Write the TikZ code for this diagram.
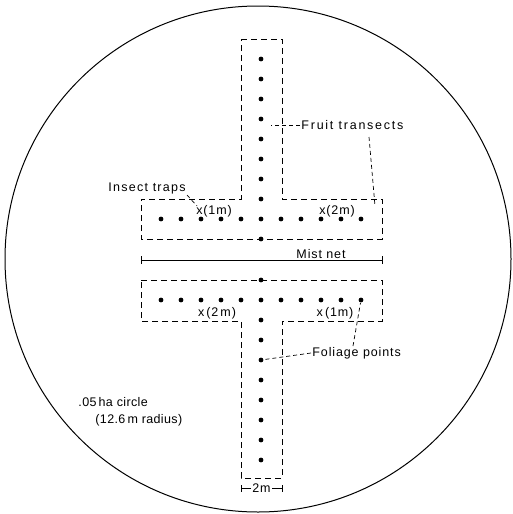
\documentclass[tikz,border=0pt]{standalone}
\usepackage{fontspec}
\setmainfont{Liberation Sans}[LetterSpace=7]
\begin{document}
\begin{tikzpicture}[x=1pt,y=-1pt,line width=0.9pt,
  bound/.style={draw,dash pattern=on 6pt off 4pt,line width=0.9pt},
  leader/.style={draw,dash pattern=on 4pt off 3pt,line width=0.7pt},
  dot/.style={circle,fill,inner sep=0pt,minimum size=4.8pt},
  lbl/.style={font=\fontsize{12.5}{14}\selectfont,inner sep=1pt},
  wide/.style={font=\fontsize{12.5}{14}\selectfont\addfontfeatures{LetterSpace=14}},
  tight/.style={font=\fontsize{12.5}{14}\selectfont\addfontfeatures{LetterSpace=3}}
]
\useasboundingbox (0,0) rectangle (512,514);
% enclosing circle
\draw[line width=1pt] (258,259) circle[radius=253];
% transect outlines
\draw[bound] (241,39) -- (282,39) -- (282,199) -- (382,199) -- (382,239)
  -- (141,239) -- (141,199) -- (241,199) -- cycle;
\draw[bound] (141,280) -- (382,280) -- (382,321) -- (282,321) -- (282,478)
  -- (241,478) -- (241,321) -- (141,321) -- cycle;
% points
\foreach \i in {0,...,9} { \node[dot] (uc\i) at (261,{59+20*\i}) {}; }
\foreach \i in {0,...,4,6,7,8,9,10} { \node[dot] (ur\i) at ({161+20*\i},219) {}; }
\foreach \i in {0,...,9} { \node[dot] (lc\i) at (261,{280+20*\i}) {}; }
\foreach \i in {0,...,4,6,7,8,9,10} { \node[dot] (lr\i) at ({161+20*\i},300) {}; }
% mist net
\coordinate (mnL) at (141,260);
\coordinate (mnR) at (382,260);
\draw (mnL) -- (mnR);
\draw ([yshift=-4pt]mnL) -- ([yshift=4pt]mnL);
\draw ([yshift=-4pt]mnR) -- ([yshift=4pt]mnR);
\node[lbl,fill=white,anchor=base,inner xsep=3pt] (mist) at (321,258.5) {Mist net};
% 2 m dimension
\coordinate (dL) at (241,488);
\coordinate (dR) at (282,488);
\draw[line width=0.7pt] (dL) -- (dR);
\draw[line width=0.7pt] ([yshift=-3.5pt]dL) -- ([yshift=3.5pt]dL);
\draw[line width=0.7pt] ([yshift=-3.5pt]dR) -- ([yshift=3.5pt]dR);
\node[lbl,fill=white,inner xsep=1.5pt] (two) at (261.5,488) {2m};
% labels
\node[lbl,anchor=west,font=\fontsize{12.5}{14}\selectfont\addfontfeatures{LetterSpace=10}] (ins) at (107,188) {Insect traps};
\node[lbl,anchor=west,wide] (fruit) at (300,125) {Fruit transects};
\node[lbl,anchor=west] (foli) at (311,353) {Foliage points};
\node[lbl] (x1u) at (214,211) {x(1m)};
\node[lbl] (x2u) at (337,211) {x(2m)};
\node[lbl] (x2l) at (217,313) {x\,(2\,m)};
\node[lbl] (x1l) at (335,313) {x\,(1m)};
\node[lbl,tight,anchor=west] (circA) at (77,402) {.05\,ha circle};
\node[lbl,tight,anchor=west] (circB) at (94,420) {(12.6\,m radius)};
% leaders
\coordinate (fruitA) at (271,125);
\coordinate (fruitB0) at (369,137);
\coordinate (fruitB) at (375,206);
\coordinate (insB) at (197,206);
\coordinate (foliT) at (353,346);
\draw[leader] (fruit.west) -- (fruitA);
\draw[leader] (fruitB0) -- (fruitB);
\draw[leader] (ins.south east) -- (insB);
\draw[leader] (foli.west) -- (lc4);
\draw[leader] (foliT) -- (lr10);
\end{tikzpicture}
\end{document}
